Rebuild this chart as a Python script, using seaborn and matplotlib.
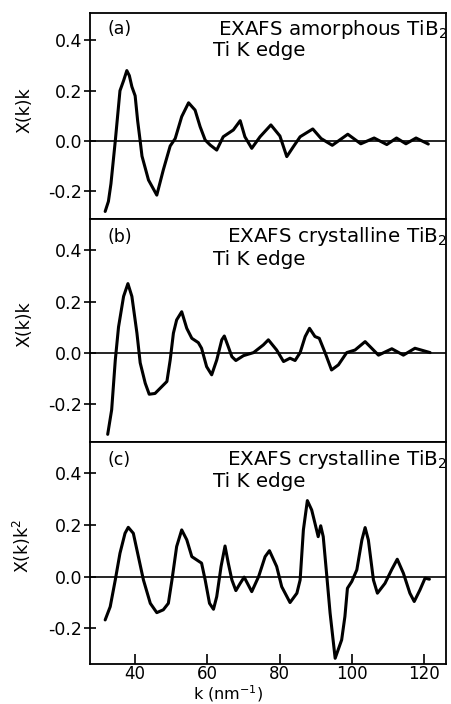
import numpy as np
import pandas as pd
import matplotlib
matplotlib.use("Agg")
import matplotlib.pyplot as plt
import seaborn as sns

# ---- data ----
k_a = [31.7, 32.6, 33.3, 34.5, 35.8, 36.8, 37.7, 38.4, 39.1, 40.0, 40.7, 41.4, 41.9, 43.7, 46.0, 47.8,
       49.7, 51.1, 52.9, 54.8, 56.6, 58.0, 59.4, 60.8, 62.6, 64.4, 67.2, 69.1, 70.4, 72.3, 74.6, 77.6,
       80.1, 82.0, 83.8, 85.7, 89.2, 91.5, 94.6, 98.9, 102.5, 106.2, 109.7, 112.4, 115.0, 117.8, 121.2]
chi_a = [-0.28, -0.24, -0.17, 0.0, 0.20, 0.24, 0.28, 0.26, 0.216, 0.18, 0.08, 0.0, -0.06, -0.155, -0.215, -0.115,
         -0.02, 0.01, 0.097, 0.152, 0.123, 0.057, 0.004, -0.016, -0.036, 0.017, 0.044, 0.081, 0.017, -0.029, 0.017, 0.064,
         0.02, -0.062, -0.023, 0.017, 0.048, 0.01, -0.017, 0.027, -0.011, 0.012, -0.014, 0.012, -0.011, 0.012, -0.012]

k_b = [32.4, 33.5, 34.5, 35.4, 36.8, 38.0, 39.1, 40.5, 41.4, 42.8, 43.9, 45.5, 47.4, 48.8, 49.7, 50.6,
       51.5, 52.9, 54.3, 55.7, 57.5, 58.4, 59.8, 61.2, 62.6, 64.0, 64.7, 65.8, 66.8, 67.9, 70.0, 72.8,
       75.5, 76.9, 79.2, 81.1, 82.9, 84.3, 85.7, 87.1, 88.3, 89.8, 91.0, 92.6, 94.4, 96.3, 98.6, 100.9,
       103.7, 107.4, 111.1, 114.3, 117.5, 121.7]
chi_b = [-0.32, -0.224, -0.03, 0.10, 0.22, 0.27, 0.22, 0.076, -0.04, -0.12, -0.163, -0.16, -0.133, -0.113, -0.03, 0.076,
         0.128, 0.16, 0.095, 0.056, 0.039, 0.017, -0.055, -0.087, -0.029, 0.05, 0.065, 0.023, -0.016, -0.031, -0.012, 0.0,
         0.03, 0.05, 0.01, -0.035, -0.022, -0.031, 0.0, 0.063, 0.095, 0.063, 0.056, 0.0, -0.068, -0.048, 0.0, 0.01,
         0.043, -0.01, 0.015, -0.01, 0.017, 0.0]

k_c = [31.7, 33.1, 34.5, 35.8, 37.2, 38.1, 39.5, 40.9, 42.3, 44.2, 46.0, 47.8, 49.2, 50.2, 51.5, 52.9,
       54.3, 55.7, 57.1, 58.4, 59.4, 60.6, 61.7, 62.6, 63.8, 64.9, 65.8, 66.8, 67.9, 69.1, 70.2, 71.1,
       72.3, 74.2, 76.0, 77.2, 79.2, 80.6, 82.9, 84.8, 85.7, 86.6, 87.7, 88.9, 89.8, 90.7, 91.4, 92.1,
       93.1, 94.0, 95.4, 97.2, 98.1, 98.8, 100.0, 101.4, 102.8, 103.7, 104.6, 106.0, 107.1, 109.2, 111.1,
       112.6, 114.3, 116.1, 117.3, 118.9, 120.3, 121.5]
chi_c = [-0.167, -0.116, -0.013, 0.09, 0.167, 0.19, 0.167, 0.077, -0.013, -0.103, -0.139, -0.128, -0.103, -0.013, 0.116, 0.18,
         0.142, 0.077, 0.064, 0.052, -0.013, -0.103, -0.126, -0.077, 0.039, 0.118, 0.052, -0.013, -0.054, -0.026, -0.002, -0.026,
         -0.058, 0.0, 0.077, 0.1, 0.039, -0.039, -0.1, -0.064, -0.013, 0.18, 0.293, 0.257, 0.206, 0.154, 0.196, 0.154,
         0.0, -0.141, -0.315, -0.244, -0.154, -0.045, -0.019, 0.026, 0.141, 0.189, 0.141, -0.013, -0.064, -0.026, 0.028,
         0.067, 0.013, -0.064, -0.096, -0.051, -0.006, -0.01]

panel_tags = ["(a)", "(b)", "(c)"]
panel_titles = ["EXAFS amorphous TiB$_2$", "EXAFS crystalline TiB$_2$", "EXAFS crystalline TiB$_2$"]
edge_label = "Ti K edge"
y_labels = ["X(k)k", "X(k)k", "X(k)k$^2$"]
x_label = "k (nm$^{-1}$)"
x_ticks = [40, 60, 80, 100, 120]
y_ticks = [-0.2, 0.0, 0.2, 0.4]

sns.set_style("ticks")
plt.rcParams["font.family"] = ["DejaVu Sans"]
plt.rcParams["text.color"] = "black"
plt.rcParams["axes.labelcolor"] = "black"
plt.rcParams["xtick.color"] = "black"
plt.rcParams["ytick.color"] = "black"
plt.rcParams["mathtext.default"] = "regular"

fig = plt.figure(figsize=(4.51, 7.04), dpi=100)
W, H = 451.0, 704.0
left, right = 90, 446
panels_px = [(13, 219), (219, 442), (442, 664)]
ylims = [(-0.31, 0.509), (-0.35, 0.523), (-0.337, 0.519)]
series = [(k_a, chi_a), (k_b, chi_b), (k_c, chi_c)]
tick_fs = 12.5
text_fs = 14.3

for i, ((top, bot), yl, (kk, cc)) in enumerate(zip(panels_px, ylims, series)):
    ax = fig.add_axes([left / W, 1 - bot / H, (right - left) / W, (bot - top) / H])
    df = pd.DataFrame({"k": kk, "chi": cc})
    sns.lineplot(data=df, x="k", y="chi", ax=ax, color="black", linewidth=2.2,
                 sort=False, estimator=None)
    ax.axhline(0, color="black", linewidth=1.2, zorder=1)
    ax.set_xlim(27.5, 126.1)
    ax.set_ylim(*yl)
    ax.set_yticks(y_ticks)
    ax.set_yticklabels([f"{v:.1f}" for v in y_ticks])
    ax.set_xticks(x_ticks)
    for sp in ax.spines.values():
        sp.set_visible(True)
        sp.set_linewidth(1.3)
        sp.set_color("black")
    ax.tick_params(axis="y", direction="inout", length=9, width=1.2, labelsize=tick_fs,
                   left=True, right=False, pad=1)
    ax.tick_params(axis="x", direction="in", length=7, width=1.2, labelsize=12, top=False, pad=1)
    if i < 2:
        ax.tick_params(axis="x", labelbottom=False, bottom=False)
        ax.set_xlabel("")
    else:
        ax.set_xlabel(x_label, fontsize=11.5, labelpad=0)
        ax.xaxis.set_label_coords((228 - left) / (right - left), (664 - 703.5) / (bot - top))
        ax.xaxis.label.set_va("bottom")
    ax.set_ylabel(y_labels[i], fontsize=tick_fs)
    ax.yaxis.set_label_coords(-0.16, 0.53)
    ax.text(0.05, 0.92, panel_tags[i], transform=ax.transAxes, fontsize=tick_fs,
            ha="left", va="center")
    ax.text(1.003, 0.92, panel_titles[i], transform=ax.transAxes, fontsize=text_fs,
            ha="right", va="center")
    ax.text(0.345, 0.82, edge_label, transform=ax.transAxes, fontsize=text_fs,
            ha="left", va="center")

fig.savefig("out.png", dpi=100)
